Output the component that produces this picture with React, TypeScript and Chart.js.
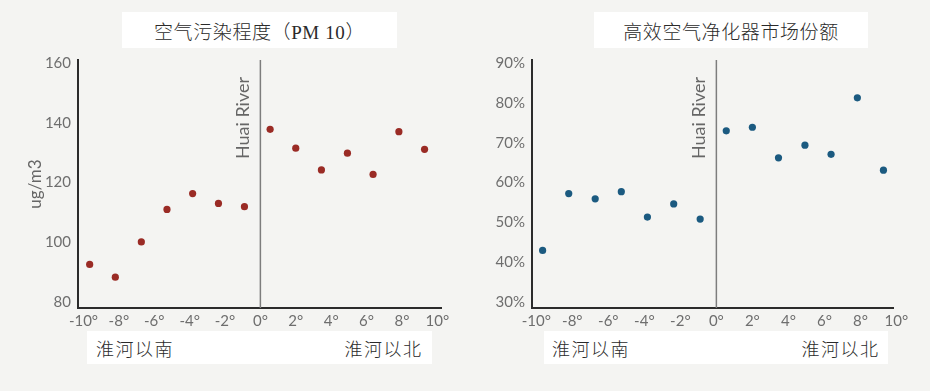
import React, { useEffect, useRef } from "react";
import { Chart, registerables } from "chart.js";

Chart.register(...registerables);

// Degrees of latitude from the Huai River (negative = south, positive = north)
const latitudeOffsets = [-9.65, -8.2, -6.73, -5.28, -3.83, -2.37, -0.9, 0.55, 2.0, 3.45, 4.92, 6.37, 7.83, 9.28];
// PM10 concentration (ug/m3)
const pm10Values = [92.6, 88.3, 100.1, 111.0, 116.3, 113.0, 111.9, 137.8, 131.5, 124.2, 129.8, 122.7, 137.0, 131.1];
// Market share of high-efficiency air purifiers (%)
const purifierShareValues = [42.9, 57.2, 55.9, 57.7, 51.3, 54.6, 50.8, 73.0, 73.9, 66.2, 69.4, 67.1, 81.3, 63.1];

const xTickValues = [-10, -8, -6, -4, -2, 0, 2, 4, 6, 8, 10];
const pm10TickValues = [80, 100, 120, 140, 160];
const shareTickValues = [30, 40, 50, 60, 70, 80, 90];

const leftTitle = "空气污染程度（PM 10）";
const rightTitle = "高效空气净化器市场份额";
const southLabel = "淮河以南";
const northLabel = "淮河以北";
const riverLabel = "Huai River";
const pmUnit = "ug/m3";

const TICK_FONT = "Lato, 'Open Sans', sans-serif";

type PanelProps = {
  left: number;
  values: number[];
  color: string;
  xMin: number;
  xMax: number;
  yMin: number;
  yMax: number;
  yTicks: number[];
  ySuffix: string;
  yAxisWidth: number;
  padRight: number;
  yTitle?: string;
};

function ScatterPanel(p: PanelProps) {
  const ref = useRef<HTMLCanvasElement | null>(null);
  useEffect(() => {
    if (!ref.current) return;
    const riverPlugin = {
      id: "riverLine",
      beforeDatasetsDraw(chart: any) {
        const { ctx, chartArea, scales } = chart;
        const x = scales.x.getPixelForValue(0);
        ctx.save();
        ctx.strokeStyle = "#7d7d7d";
        ctx.lineWidth = 1.5;
        ctx.beginPath();
        ctx.moveTo(x, chartArea.top);
        ctx.lineTo(x, chartArea.bottom);
        ctx.stroke();
        ctx.translate(x - 17, chartArea.top + 17);
        ctx.rotate(-Math.PI / 2);
        ctx.font = `18px ${TICK_FONT}`;
        ctx.fillStyle = "#666";
        ctx.textAlign = "right";
        ctx.textBaseline = "middle";
        ctx.fillText(riverLabel, 0, 0);
        ctx.restore();
      },
    };
    const chart = new Chart(ref.current, {
      type: "scatter",
      data: {
        datasets: [
          {
            data: latitudeOffsets.map((x, i) => ({ x, y: p.values[i] })),
            backgroundColor: p.color,
            borderWidth: 0,
            pointRadius: 3.6,
            pointHoverRadius: 3.6,
          },
        ],
      },
      options: {
        responsive: false,
        animation: false,
        devicePixelRatio: 1,
        layout: { padding: { top: 60, right: p.padRight, bottom: 0, left: 0 } },
        plugins: {
          legend: { display: false },
          tooltip: { enabled: false },
          title: { display: false },
        },
        scales: {
          x: {
            type: "linear",
            min: p.xMin,
            max: p.xMax,
            grid: { display: false, drawTicks: false },
            border: { display: true, color: "#2b2b2b", width: 2 },
            ticks: {
              font: { family: TICK_FONT, size: 15 },
              color: "#6e6e6e",
              padding: 4,
              autoSkip: false,
              maxRotation: 0,
              callback: (v: any) => `${v}°`,
            },
            afterBuildTicks: (s: any) => {
              s.ticks = xTickValues.map((v) => ({ value: v }));
            },
            afterFit: (s: any) => {
              s.height = 83;
              s.paddingLeft = 0;
              s.paddingRight = 0;
            },
          },
          y: {
            type: "linear",
            min: p.yMin,
            max: p.yMax,
            grid: { display: false, drawTicks: false },
            border: { display: true, color: "#2b2b2b", width: 2 },
            ticks: {
              font: { family: TICK_FONT, size: 15 },
              color: "#6e6e6e",
              padding: 7,
              callback: (v: any) => `${v}${p.ySuffix}`,
            },
            afterBuildTicks: (s: any) => {
              s.ticks = p.yTicks.map((v) => ({ value: v }));
            },
            afterFit: (s: any) => {
              s.width = p.yAxisWidth;
              s.paddingTop = 0;
              s.paddingBottom = 0;
            },
            title: p.yTitle
              ? {
                  display: true,
                  text: p.yTitle,
                  font: { family: TICK_FONT, size: 17 },
                  color: "#666",
                  padding: { top: 25, bottom: 0 },
                }
              : { display: false },
          },
        },
      },
      plugins: [riverPlugin],
    } as any);
    return () => chart.destroy();
  }, []);
  return (
    <canvas
      ref={ref}
      width={465}
      height={391}
      style={{ position: "absolute", left: p.left, top: 0, width: 465, height: 391 }}
    />
  );
}

const cjk = "'Liberation Serif', 'Noto Sans CJK SC', sans-serif";

function TitleBox({ left, width, text }: { left: number; width: number; text: string }) {
  return (
    <div
      style={{
        position: "absolute",
        left,
        top: 12,
        width,
        height: 36,
        background: "#fff",
        display: "flex",
        alignItems: "center",
        justifyContent: "center",
        fontFamily: cjk,
        fontSize: 19,
        fontWeight: 300,
        letterSpacing: 0.6,
        color: "#2a2a2a",
      }}
    >
      {text}
    </div>
  );
}

function SideBox({ left, width, padL, padR }: { left: number; width: number; padL: number; padR: number }) {
  return (
    <div
      style={{
        position: "absolute",
        left,
        top: 331,
        width,
        height: 33,
        boxSizing: "border-box",
        paddingLeft: padL,
        paddingRight: padR,
        background: "#fff",
        display: "flex",
        alignItems: "center",
        justifyContent: "space-between",
        fontFamily: "'Noto Sans CJK SC', sans-serif",
        fontSize: 18,
        fontWeight: 300,
        letterSpacing: 1.5,
        color: "#2a2a2a",
      }}
    >
      <span>{southLabel}</span>
      <span>{northLabel}</span>
    </div>
  );
}

export default function App() {
  return (
    <div
      style={{
        position: "fixed",
        left: 0,
        top: 0,
        width: 930,
        height: 391,
        background: "#f4f4f2",
        overflow: "hidden",
      }}
    >
      <ScatterPanel
        left={0}
        values={pm10Values}
        color="#9a2b25"
        xMin={-10.31}
        xMax={10.21}
        yMin={78}
        yMax={161}
        yTicks={pm10TickValues}
        ySuffix=""
        yAxisWidth={78}
        padRight={24}
        yTitle={pmUnit}
      />
      <ScatterPanel
        left={465}
        values={purifierShareValues}
        color="#1b5a80"
        xMin={-10.24}
        xMax={9.81}
        yMin={28.41}
        yMax={90.83}
        yTicks={shareTickValues}
        ySuffix="%"
        yAxisWidth={67}
        padRight={37}
      />
      <TitleBox left={122} width={275} text={leftTitle} />
      <TitleBox left={594} width={274} text={rightTitle} />
      <SideBox left={87} width={345} padL={9} padR={9.5} />
      <SideBox left={544} width={344} padL={8} padR={8.5} />
    </div>
  );
}
